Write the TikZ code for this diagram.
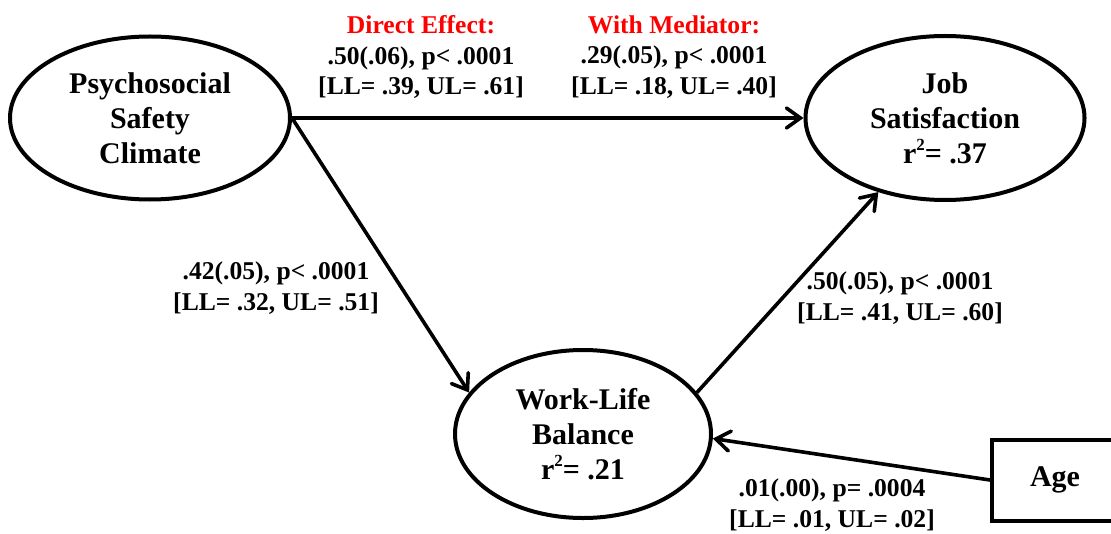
\documentclass[tikz,border=0pt]{standalone}
\usepackage{fontspec}
\setmainfont{Liberation Serif}
\usetikzlibrary{shapes.geometric,arrows.meta}

\newcommand{\rsq}{r\raisebox{0.42em}{\fontsize{8.5}{8.5}\selectfont 2}}

\begin{document}
\begin{tikzpicture}[x=0.5pt,y=-0.5pt]
    \tikzstyle{marrs}=[line width=1.8pt,-{Straight Barb[length=7pt,width=10pt,line cap=round]}]
    \tikzstyle{lnode}=[ellipse, draw, line width=2pt, inner sep=0pt, align=center, font=\bfseries\fontsize{15}{17.5}\selectfont]
    \tikzstyle{bnode}=[rectangle, draw, line width=2pt, inner sep=0pt, font=\bfseries\fontsize{15}{17.5}\selectfont]
    \tikzstyle{elabel}=[align=center, inner sep=0pt, font=\bfseries\fontsize{12.8}{15.3}\selectfont]

    \clip (0,0) rectangle (1111,534);

    % latent variables
    \node[lnode, minimum width=140pt, minimum height=81.5pt] (psc) at (150,118) {Psychosocial\\Safety\\Climate};
    \node[lnode, minimum width=139.5pt, minimum height=82pt] (js) at (945,118) {Job\\Satisfaction\\\rsq= .37};
    \node[lnode, minimum width=128pt, minimum height=84pt] (wlb) at (583,434) {Work-Life\\Balance\\\rsq= .21};
    \node[bnode, minimum width=63pt, minimum height=40.5pt] (age) at (1055,480) {Age};

    % paths
    \draw[marrs] (psc.east) -- (js.west);
    \draw[marrs] (psc.east) -- (wlb.160);
    \draw[marrs] (wlb.20) -- (js.228);
    \draw[marrs] (age.west) -- (wlb.-2);

    % coefficients
    \node[elabel] (direct) at (421,57) {\textcolor{red}{Direct Effect:}\\.50(.06), p< .0001\\{}[LL= .39, UL= .61]};
    \node[elabel] (withmed) at (674,57) {\textcolor{red}{With Mediator:}\\.29(.05), p< .0001\\{}[LL= .18, UL= .40]};
    \node[elabel] (pscwlb) at (276,288) {.42(.05), p< .0001\\{}[LL= .32, UL= .51]};
    \node[elabel] (wlbjs) at (900,298) {.50(.05), p< .0001\\{}[LL= .41, UL= .60]};
    \node[elabel] (agewlb) at (832,505) {.01(.00), p= .0004\\{}[LL= .01, UL= .02]};
\end{tikzpicture}
\end{document}
